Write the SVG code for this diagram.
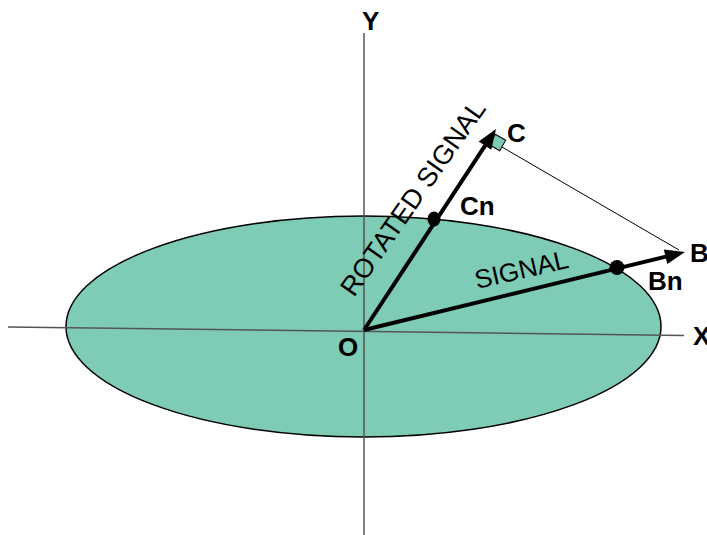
<svg xmlns="http://www.w3.org/2000/svg" width="707" height="535" viewBox="0 0 707 535">
  <style>
    .axis { stroke: #555; stroke-width: 1.5; fill: none; }
    .vec { stroke: #000; stroke-width: 4; fill: none; }
    .thin { stroke: #000; stroke-width: 1; fill: none; }
    .lbl { font-family: "Liberation Sans", Arial, sans-serif; font-weight: bold; font-size: 26px; fill: #000; }
    .vlbl { font-family: "Liberation Sans", Arial, sans-serif; font-size: 26px; fill: #000; }
    .fillc { fill: #7ECCB5; }
  </style>
  <g id="ellipse">
    <ellipse class="fillc" cx="363.5" cy="326.5" rx="297.5" ry="110.5" stroke="#000" stroke-width="1.5"/>
  </g>
  <g id="axes">
    <line class="axis" x1="364" y1="33" x2="364" y2="535"/>
    <line class="axis" x1="8" y1="327" x2="684" y2="335.5"/>
    <text class="lbl" x="362" y="30">Y</text>
    <text class="lbl" x="693" y="345">X</text>
    <text class="lbl" x="338" y="356">O</text>
  </g>
  <g id="connectors">
    <line class="thin" x1="502" y1="147" x2="679" y2="250"/>
    <rect class="fillc" x="-6" y="-6" width="12" height="12" stroke="#000" stroke-width="1" transform="translate(497.5,142.5) rotate(30)"/>
    <line class="vec" x1="364" y1="330" x2="675.3" y2="254.4"/>
    <polygon points="685,252 667.3,264 663.8,249.4" fill="#000"/>
    <line class="vec" x1="364" y1="330" x2="490.5" y2="137.4"/>
    <polygon points="496,129 491.3,149.8 478.7,141.6" fill="#000"/>
  </g>
  <g id="signal">
    <ellipse cx="617" cy="267.5" rx="7.5" ry="7.5" fill="#000"/>
    <text class="vlbl" transform="translate(477,289) rotate(-13)">SIGNAL</text>
    <text class="lbl" x="690" y="262">B</text>
    <text class="lbl" x="648" y="290">Bn</text>
  </g>
  <g id="rotated">
    <ellipse cx="434" cy="219" rx="6.5" ry="7.5" fill="#000"/>
    <text class="vlbl" transform="translate(354,298) rotate(-55)" style="font-size:27px">ROTATED SIGNAL</text>
    <text class="lbl" x="507" y="142">C</text>
    <text class="lbl" x="460" y="215">Cn</text>
  </g>
</svg>
